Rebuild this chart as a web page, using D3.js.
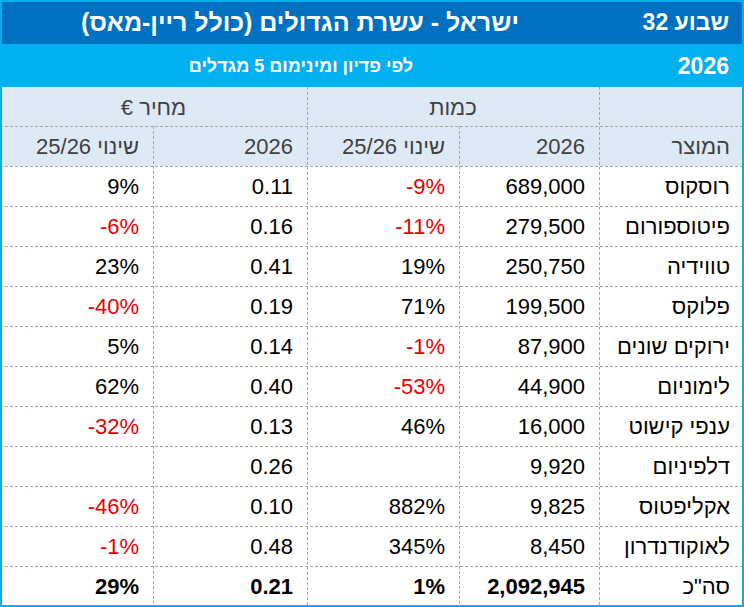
<!DOCTYPE html>
<html>
<head>
<meta charset="utf-8">
<script src="https://cdn.jsdelivr.net/npm/d3@7"></script>
<style>
  body { margin: 0; background: #fff; }
  text { font-family: "Liberation Sans", Arial, sans-serif; }
</style>
</head>
<body>
<div id="table"></div>
<script>
// table data
var weekLabel = "שבוע 32";
var titleText = "ישראל - עשרת הגדולים (כולל ריין-מאס)";
var yearLabel = "2026";
var subtitleText = "לפי פדיון ומינימום 5 מגדלים";
var groupHeaders = ["כמות", "מחיר €"];
var colHeaders = ["המוצר", "2026", "שינוי 25/26", "2026", "שינוי 25/26"];

var products = ["רוסקוס", "פיטוספורום", "טווידיה", "פלוקס", "ירוקים שונים",
  "לימוניום", "ענפי קישוט", "דלפיניום", "אקליפטוס", "לאוקודנדרון"];
var qty2026 = [689000, 279500, 250750, 199500, 87900, 44900, 16000, 9920, 9825, 8450];
var qtyChange = [-0.09, -0.11, 0.19, 0.71, -0.01, -0.53, 0.46, null, 8.82, 3.45];
var price2026 = [0.11, 0.16, 0.41, 0.19, 0.14, 0.40, 0.13, 0.26, 0.10, 0.48];
var priceChange = [0.09, -0.06, 0.23, -0.40, 0.05, 0.62, -0.32, null, -0.46, -0.01];

var totalLabel = 'סה"כ';
var totalValues = [2092945, 0.01, 0.21, 0.29];

// layout
var width = 744, height = 607;
var colKeys = ["product", "qty", "qtyChg", "price", "priceChg"];
var colRight = d3.scaleOrdinal().domain(colKeys).range([744, 599, 459, 307, 153]);
var colLeft = d3.scaleOrdinal().domain(colKeys).range([599, 459, 307, 153, 0]);
var pad = 14;

// plain hyphen for negatives, like the spreadsheet
var locale = d3.formatLocale({decimal: ".", thousands: ",", grouping: [3], currency: ["", ""], minus: "-"});
var fmtQty = locale.format(",");
var fmtPct = locale.format(".0%");
var fmtPrice = locale.format(".2f");
var red = "#e60000";
var grid = "#a6a6a6";

// build rows
var rows = products.map(function(p, i) {
  return {
    label: p, bold: false,
    cells: [
      {key: "qty", v: qty2026[i], f: fmtQty},
      {key: "qtyChg", v: qtyChange[i], f: fmtPct, chg: true},
      {key: "price", v: price2026[i], f: fmtPrice},
      {key: "priceChg", v: priceChange[i], f: fmtPct, chg: true}
    ]
  };
});
rows.push({
  label: totalLabel, bold: true,
  cells: [
    {key: "qty", v: totalValues[0], f: fmtQty},
    {key: "qtyChg", v: totalValues[1], f: fmtPct, chg: true},
    {key: "price", v: totalValues[2], f: fmtPrice},
    {key: "priceChg", v: totalValues[3], f: fmtPct, chg: true}
  ]
});

var y = d3.scaleBand()
  .domain(rows.map(function(d, i) { return i; }))
  .range([166, 606]);

var svg = d3.select("#table").append("svg")
  .attr("width", width)
  .attr("height", height);

// bands
svg.append("rect").attr("x", 0).attr("y", 0).attr("width", width).attr("height", 44).attr("fill", "#0070c0");
svg.append("rect").attr("x", 0).attr("y", 44).attr("width", width).attr("height", 43).attr("fill", "#00b0f0");
svg.append("rect").attr("x", 0).attr("y", 87).attr("width", width).attr("height", 79).attr("fill", "#dde9f5");

// top band text
svg.append("text")
  .attr("x", 729).attr("y", 22).attr("dy", "0.35em")
  .attr("direction", "rtl").attr("text-anchor", "start")
  .attr("font-size", 23).attr("font-weight", "bold").attr("fill", "#fff")
  .text(weekLabel);
svg.append("text")
  .attr("x", 300).attr("y", 22).attr("dy", "0.35em")
  .attr("direction", "rtl").attr("text-anchor", "middle")
  .attr("font-size", 25).attr("font-weight", "bold").attr("fill", "#fff")
  .text(titleText);
svg.append("text")
  .attr("x", 729).attr("y", 66).attr("dy", "0.35em")
  .attr("text-anchor", "end")
  .attr("font-size", 23).attr("font-weight", "bold").attr("fill", "#fff")
  .text(yearLabel);
svg.append("text")
  .attr("x", 301).attr("y", 66).attr("dy", "0.35em")
  .attr("direction", "rtl").attr("text-anchor", "middle")
  .attr("font-size", 18).attr("font-weight", "bold").attr("fill", "#fff")
  .text(subtitleText);

// grid lines
var hLines = [126, 166].concat(y.domain().slice(1).map(function(i) { return y(i); }));
svg.selectAll("line.h").data(hLines).enter().append("line")
  .attr("class", "h")
  .attr("x1", 0).attr("x2", width)
  .attr("y1", function(d) { return d + 0.5; }).attr("y2", function(d) { return d + 0.5; })
  .attr("stroke", grid).attr("stroke-dasharray", "3,2");

// vertical lines: 599 and 307 full height of header, 459 and 153 from second header row
var vLines = [
  {x: colLeft("product"), y0: 87},
  {x: colLeft("qtyChg"), y0: 87},
  {x: colLeft("qty"), y0: 126},
  {x: colLeft("price"), y0: 126}
];
svg.selectAll("line.v").data(vLines).enter().append("line")
  .attr("class", "v")
  .attr("x1", function(d) { return d.x + 0.5; }).attr("x2", function(d) { return d.x + 0.5; })
  .attr("y1", function(d) { return d.y0; }).attr("y2", 606)
  .attr("stroke", grid).attr("stroke-dasharray", "3,2");

// header row 1
svg.append("text")
  .attr("x", (colLeft("qtyChg") + colRight("qty")) / 2).attr("y", 107).attr("dy", "0.35em")
  .attr("direction", "rtl").attr("text-anchor", "middle")
  .attr("font-size", 22).attr("fill", "#404040")
  .text(groupHeaders[0]);
svg.append("text")
  .attr("x", (colLeft("priceChg") + colRight("price")) / 2).attr("y", 107).attr("dy", "0.35em")
  .attr("direction", "rtl").attr("text-anchor", "middle")
  .attr("font-size", 22).attr("fill", "#404040")
  .text(groupHeaders[1]);

// header row 2
svg.selectAll("text.colhead").data(colHeaders).enter().append("text")
  .attr("class", "colhead")
  .attr("x", function(d, i) { return colRight(colKeys[i]) - pad; })
  .attr("y", 146).attr("dy", "0.35em")
  .attr("direction", "rtl").attr("text-anchor", "start")
  .attr("font-size", 22).attr("fill", "#404040")
  .text(function(d) { return d; });

// body rows
var rowG = svg.selectAll("g.row").data(rows).enter().append("g")
  .attr("class", "row")
  .attr("transform", function(d, i) { return "translate(0," + (y(i) + y.bandwidth() / 2) + ")"; });

rowG.append("text")
  .attr("x", colRight("product") - pad).attr("dy", "0.35em")
  .attr("direction", "rtl").attr("text-anchor", "start")
  .attr("font-size", 22).attr("fill", "#000")
  .text(function(d) { return d.label; });

rowG.selectAll("text.val").data(function(d) {
    return d.cells.filter(function(c) { return c.v !== null; })
      .map(function(c) { return Object.assign({bold: d.bold}, c); });
  }).enter().append("text")
  .attr("class", "val")
  .attr("x", function(c) { return colRight(c.key) - pad; }).attr("dy", "0.35em")
  .attr("text-anchor", "end")
  .attr("font-size", 22)
  .attr("font-weight", function(c) { return c.bold ? "bold" : "normal"; })
  .attr("fill", function(c) { return c.chg && c.v < 0 ? red : "#000"; })
  .text(function(c) { return c.f(c.v); });

// outer frame
svg.append("rect")
  .attr("x", 1).attr("y", 1).attr("width", width - 2).attr("height", height - 2)
  .attr("fill", "none").attr("stroke", "#00b0f0").attr("stroke-width", 2);
</script>
</body>
</html>
